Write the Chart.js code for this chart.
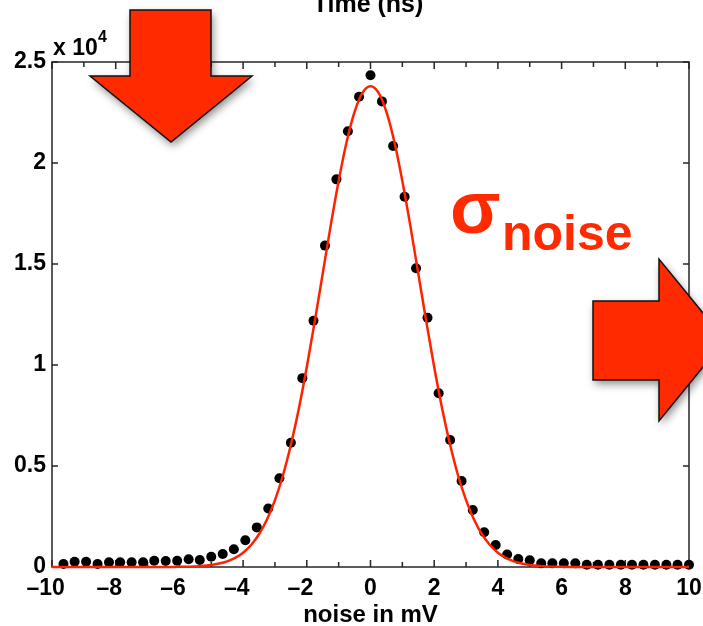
<!DOCTYPE html>
<html>
<head>
<meta charset="utf-8">
<script src="https://cdn.jsdelivr.net/npm/chart.js@4.4.0/dist/chart.umd.min.js"></script>
<style>
  html, body { margin: 0; padding: 0; background: #fff; }
</style>
</head>
<body>
<canvas id="myChart" width="703" height="626"></canvas>
<script>
// histogram of noise (counts in units of 10^4)
const noiseBins = [-9.64, -9.29, -8.93, -8.57, -8.21, -7.86, -7.5, -7.14, -6.79, -6.43,
  -6.07, -5.71, -5.36, -5, -4.64, -4.29, -3.93, -3.57, -3.21, -2.86,
  -2.5, -2.14, -1.79, -1.43, -1.07, -0.71, -0.36, 0, 0.36, 0.71,
  1.07, 1.43, 1.79, 2.14, 2.5, 2.86, 3.21, 3.57, 3.93, 4.29,
  4.64, 5, 5.36, 5.71, 6.07, 6.43, 6.79, 7.14, 7.5, 7.86,
  8.21, 8.57, 8.93, 9.29, 9.64, 10];
const noiseCounts = [0.015, 0.026, 0.026, 0.015, 0.023, 0.023, 0.023, 0.023, 0.031, 0.030,
  0.031, 0.038, 0.035, 0.051, 0.064, 0.088, 0.132, 0.196, 0.290, 0.439,
  0.615, 0.935, 1.219, 1.591, 1.919, 2.157, 2.328, 2.434, 2.305, 2.084,
  1.833, 1.479, 1.234, 0.860, 0.629, 0.426, 0.282, 0.172, 0.109, 0.062,
  0.040, 0.033, 0.018, 0.018, 0.018, 0.018, 0.011, 0.011, 0.011, 0.011,
  0.011, 0.011, 0.011, 0.011, 0.011, 0.011];

// gaussian fit
const fitX = [-10, -9, -8, -7, -6.5, -6, -5.5, -5, -4.75, -4.5, -4.25, -4, -3.75, -3.5,
  -3.25, -3, -2.75, -2.5, -2.25, -2, -1.75, -1.5, -1.25, -1, -0.75, -0.5, -0.25, 0,
  0.25, 0.5, 0.75, 1, 1.25, 1.5, 1.75, 2, 2.25, 2.5, 2.75, 3, 3.25, 3.5,
  3.75, 4, 4.25, 4.5, 4.75, 5, 5.5, 6, 6.5, 7, 8, 9, 10];
const fitY = [0, 0, 0, 0, 0, 0.0009, 0.0031, 0.0099, 0.0169, 0.028, 0.0453, 0.071, 0.109, 0.162,
  0.235, 0.331, 0.453, 0.605, 0.784, 0.990, 1.216, 1.453, 1.690, 1.911, 2.104, 2.253, 2.348, 2.380,
  2.348, 2.253, 2.104, 1.911, 1.690, 1.453, 1.216, 0.990, 0.784, 0.605, 0.453, 0.331, 0.235, 0.162,
  0.109, 0.071, 0.0453, 0.028, 0.0169, 0.0099, 0.0031, 0.0009, 0, 0, 0, 0, 0];

const RED = '#ff2a00';
const FONT = '"Liberation Sans", Arial, Helvetica, sans-serif';
Chart.defaults.font.family = FONT;

// box around the plot with inward ticks on all four sides
const frame = {
  id: 'frame',
  beforeDatasetsDraw(chart) {
    const { ctx, chartArea: a, scales: { x, y } } = chart;
    ctx.save();
    ctx.strokeStyle = '#262626';
    ctx.lineWidth = 1.5;
    ctx.beginPath();
    for (let v = -10; v <= 10; v++) {
      const px = x.getPixelForValue(v);
      const len = v % 2 === 0 ? 7 : 5;
      ctx.moveTo(px, a.bottom); ctx.lineTo(px, a.bottom - len);
      ctx.moveTo(px, a.top); ctx.lineTo(px, a.top + len);
    }
    for (let v = 0; v <= 2.5; v += 0.5) {
      const py = y.getPixelForValue(v);
      ctx.moveTo(a.left, py); ctx.lineTo(a.left + 6, py);
      ctx.moveTo(a.right, py); ctx.lineTo(a.right - 6, py);
    }
    ctx.stroke();
    ctx.strokeRect(a.left, a.top, a.right - a.left, a.bottom - a.top);
    ctx.restore();
  }
};

function arrow(ctx, pts) {
  ctx.beginPath();
  pts.forEach((p, i) => (i ? ctx.lineTo(p[0], p[1]) : ctx.moveTo(p[0], p[1])));
  ctx.closePath();
  ctx.save();
  ctx.shadowColor = 'rgba(0,0,0,0.45)';
  ctx.shadowBlur = 8;
  ctx.shadowOffsetX = 2;
  ctx.shadowOffsetY = 4;
  ctx.fillStyle = RED;
  ctx.fill();
  ctx.restore();
  ctx.lineWidth = 1.5;
  ctx.strokeStyle = '#111';
  ctx.stroke();
}

const overlay = {
  id: 'overlay',
  afterDraw(chart) {
    const ctx = chart.ctx;
    ctx.save();
    ctx.fillStyle = '#000';
    ctx.textAlign = 'center';
    ctx.textBaseline = 'alphabetic';
    ctx.font = 'bold 25px ' + FONT;
    ctx.fillText('Time (ns)', 368, 12);

    ctx.textAlign = 'left';
    ctx.font = 'bold 23px ' + FONT;
    ctx.fillText('x 10', 53, 55);
    ctx.font = 'bold 16px ' + FONT;
    ctx.fillText('4', 98, 42);

    arrow(ctx, [[130, 10], [211, 10], [211, 76], [252, 76], [171, 142], [90, 76], [130, 76]]);
    arrow(ctx, [[593, 301], [659, 301], [659, 259], [725, 340], [659, 421], [659, 380], [593, 380]]);

    ctx.fillStyle = RED;
    ctx.font = 'bold 74px ' + FONT;
    ctx.fillText('σ', 450, 233);
    ctx.font = 'bold 50px ' + FONT;
    ctx.fillText('noise', 502, 250);
    ctx.restore();
  }
};

new Chart(document.getElementById('myChart').getContext('2d'), {
  type: 'scatter',
  data: {
    datasets: [
      {
        label: 'fit',
        data: fitX.map((v, i) => ({ x: v, y: fitY[i] })),
        showLine: true,
        borderColor: '#ff2200',
        borderWidth: 2.5,
        pointRadius: 0,
        cubicInterpolationMode: 'monotone',
        clip: false,
        order: 0,
      },
      {
        label: 'noise',
        data: noiseBins.map((v, i) => ({ x: v, y: noiseCounts[i] })),
        backgroundColor: '#000',
        borderColor: '#000',
        pointRadius: 5,
        pointBorderWidth: 0,
        clip: false,
        order: 1,
      },
    ],
  },
  options: {
    responsive: false,
    animation: false,
    devicePixelRatio: 1,
    layout: { padding: { top: 62, right: 14, left: 0, bottom: 0 } },
    plugins: { legend: { display: false }, tooltip: { enabled: false } },
    scales: {
      x: {
        type: 'linear',
        min: -10,
        max: 10,
        grid: { display: false, drawTicks: false },
        border: { display: false },
        ticks: {
          stepSize: 2,
          padding: 8,
          color: '#000',
          maxRotation: 0,
          font: { size: 23, weight: 'bold' },
          callback: (v) => (v < 0 ? '\u2013' + Math.abs(v) + '\u2007' : String(v)),
        },
        title: {
          display: true,
          text: 'noise in mV',
          color: '#000',
          font: { size: 24, weight: 'bold' },
          padding: { top: 0, bottom: -4 },
        },
        afterFit: (s) => { s.height = 59; s.paddingLeft = 0; s.paddingRight = 0; },
      },
      y: {
        min: 0,
        max: 2.5,
        grid: { display: false, drawTicks: false },
        border: { display: false },
        ticks: {
          stepSize: 0.5,
          padding: 6,
          color: '#000',
          font: { size: 23, weight: 'bold' },
          callback: (v) => String(v),
        },
        afterFit: (s) => { s.width = 52; s.paddingTop = 0; s.paddingBottom = 0; },
      },
    },
  },
  plugins: [frame, overlay],
});
</script>
</body>
</html>
